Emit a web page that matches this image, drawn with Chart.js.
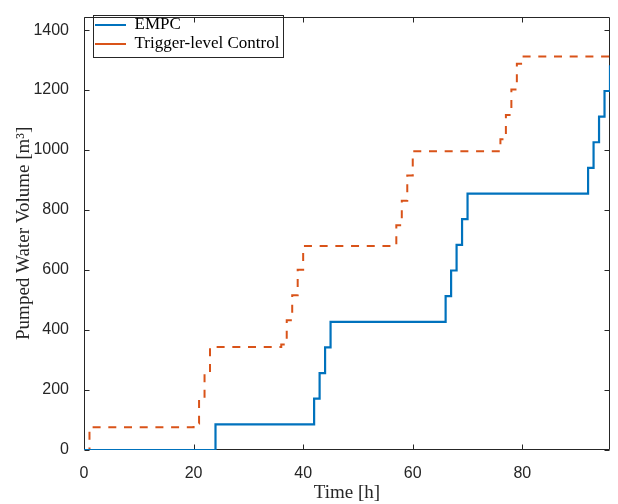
<!DOCTYPE html>
<html><head><meta charset="utf-8">
<script src="https://cdn.jsdelivr.net/npm/chart.js@4.4.1/dist/chart.umd.min.js"></script>
<style>html,body{margin:0;padding:0;background:#fff;}#wrap{width:618px;height:504px;}</style>
</head><body><div id="wrap"><canvas id="c" width="618" height="504"></canvas></div>
<script>
const xTicks = [0, 20, 40, 60, 80];
const yTicks = [0, 200, 400, 600, 800, 1000, 1200, 1400];
const seriesNames = ['EMPC', 'Trigger-level Control'];
// time of each change [h] and the volume from then on [m3]
const empcTime   = [0, 24, 42, 43, 44, 45, 66, 67, 68, 69, 70, 92, 93, 94, 95, 96];
const empcVolume = [0, 85.5, 171, 256.5, 342, 427.5, 513, 598.5, 684, 769.5, 855, 940.5, 1026, 1111.5, 1197, 1282.5];
const triggerTime   = [0, 1, 20, 21, 22, 23, 36, 37, 38, 39, 40, 57, 58, 59, 60, 76, 77, 78, 79, 80, 96];
const triggerVolume = [0, 76, 88, 173, 258, 343, 352, 433, 516, 601, 680, 749, 831, 915, 996, 1036, 1117, 1202, 1288, 1312, 1312];

const toPts = (t, v) => t.map((x, i) => ({x: x, y: v[i]}));
const AX = '#262626';
const LEG_FONT = 17, LEG_PAD = 2, LEG_BOX = 31;

const boxPlugin = {
  id: 'matlabBox',
  afterLayout(chart) {
    const lg = chart.legend;
    if (lg) { lg.left = 93; lg.top = 14.5; }
  },
  beforeDatasetsDraw(chart) {
    const {ctx, chartArea: a, scales} = chart;
    ctx.save();
    ctx.strokeStyle = AX; ctx.lineWidth = 1;
    const L = Math.round(a.left) + 0.5, R = Math.round(a.right) - 0.5;
    const T = Math.round(a.top) + 0.5, B = Math.round(a.bottom) - 0.5;
    ctx.beginPath();
    ctx.rect(L, T, R - L, B - T);
    const tl = 5;
    xTicks.forEach(v => {
      const px = Math.round(scales.x.getPixelForValue(v)) + 0.5;
      ctx.moveTo(px, B); ctx.lineTo(px, B - tl);
      ctx.moveTo(px, T); ctx.lineTo(px, T + tl);
    });
    yTicks.forEach(v => {
      const py = Math.round(scales.y.getPixelForValue(v)) + 0.5;
      ctx.moveTo(L, py); ctx.lineTo(L + tl, py);
      ctx.moveTo(R, py); ctx.lineTo(R - tl, py);
    });
    ctx.stroke();
    ctx.restore();
  },
  afterDraw(chart) {
    const lg = chart.legend;
    if (!lg || !lg.legendHitBoxes || lg.legendHitBoxes.length < 2) return;
    const hb = lg.legendHitBoxes;
    const ctx = chart.ctx;
    ctx.save();
    ctx.font = LEG_FONT + 'px "Liberation Serif"';
    const w = Math.max(...seriesNames.map(s => ctx.measureText(s).width));
    const x0 = Math.round(hb[0].left - 2.5) + 0.5;
    const y0 = Math.round(hb[0].top - 1.5) + 0.5;
    const x1 = Math.round(hb[0].left + LEG_BOX + LEG_FONT / 2 + w + 4) + 0.5;
    const y1 = Math.round(hb[1].top + LEG_FONT / 2 + 12.5) + 0.5;
    ctx.strokeStyle = AX; ctx.lineWidth = 1;
    ctx.strokeRect(x0, y0, x1 - x0, y1 - y0);
    ctx.restore();
  }
};

new Chart(document.getElementById('c'), {
  type: 'line',
  data: {
    datasets: [
      {label: seriesNames[0], data: toPts(empcTime, empcVolume), stepped: 'before',
       borderColor: '#0072BD', backgroundColor: '#0072BD', borderWidth: 2.2, pointRadius: 0, fill: false},
      {label: seriesNames[1], data: toPts(triggerTime, triggerVolume), stepped: 'before',
       borderColor: '#D95319', backgroundColor: '#D95319', borderWidth: 2, borderDash: [8, 7.7], pointRadius: 0, fill: false}
    ]
  },
  options: {
    responsive: false, animation: false, devicePixelRatio: 1,
    layout: {padding: {left: 0, right: 8, top: 5, bottom: 0}},
    plugins: {
      tooltip: {enabled: false},
      legend: {
        position: 'chartArea', align: 'start',
        labels: {usePointStyle: true, pointStyle: 'line', pointStyleWidth: LEG_BOX, padding: LEG_PAD,
                 color: '#000', font: {family: 'Liberation Serif', size: LEG_FONT}}
      }
    },
    scales: {
      x: {
        type: 'linear', min: 0, max: 96,
        afterBuildTicks: s => { s.ticks = xTicks.map(v => ({value: v})); },
        afterFit: s => { s.height = 54; },
        grid: {display: false}, border: {display: false},
        ticks: {padding: 6, color: AX, font: {family: 'Liberation Sans', size: 16}, callback: v => String(v)},
        title: {display: true, text: 'Time [h]', color: AX, font: {family: 'Liberation Serif', size: 19}, padding: {top: 4, bottom: 0}}
      },
      y: {
        type: 'linear', min: 0, max: 1445,
        afterBuildTicks: s => { s.ticks = yTicks.map(v => ({value: v})); },
        afterFit: s => { s.width = 84; },
        grid: {display: false}, border: {display: false},
        ticks: {padding: 7, color: AX, font: {family: 'Liberation Sans', size: 16}, callback: v => String(v)},
        title: {display: true, text: 'Pumped Water Volume [m³]', color: AX, font: {family: 'Liberation Serif', size: 19}, padding: {top: 13, bottom: 0}}
      }
    }
  },
  plugins: [boxPlugin]
});
</script>
</body></html>
